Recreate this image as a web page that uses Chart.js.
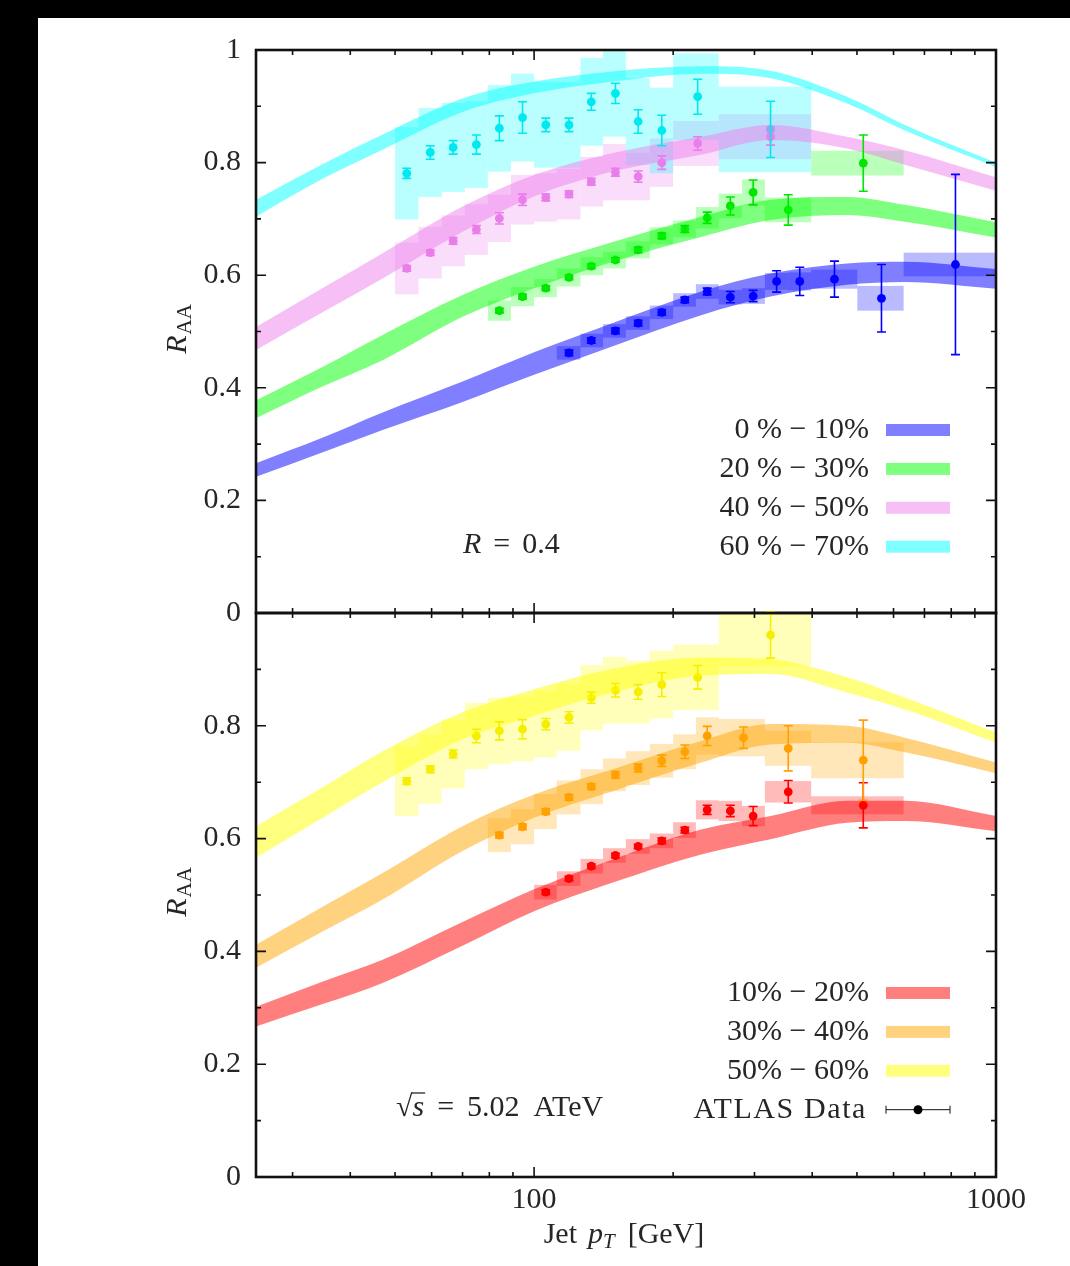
<!DOCTYPE html>
<html>
<head>
<meta charset="utf-8">
<script src="https://cdn.jsdelivr.net/npm/chart.js@4.4.0/dist/chart.umd.min.js"></script>
<style>
  html, body { margin: 0; padding: 0; background: #000; }
  #page { position: absolute; left: 38px; top: 18px; width: 1032px; height: 1248px; background: #fff; }
  canvas { position: absolute; left: 0; }
  #top { top: 0; }
  #bot { top: 600px; }
</style>
</head>
<body>
<div id="page"></div>
<canvas id="top" width="1070" height="640"></canvas>
<canvas id="bot" width="1070" height="666"></canvas>
<script>
// =====================
// data
// =====================
const THEORY_PT = [25, 35, 47, 70, 100, 148, 230, 325, 476, 635, 1000];

// theory bands, R = 0.4 (upper panel)
const band0_10_lo  = [0.242, 0.286, 0.325, 0.375, 0.423, 0.474, 0.529, 0.562, 0.583, 0.588, 0.576];
const band0_10_hi  = [0.266, 0.312, 0.356, 0.411, 0.463, 0.515, 0.571, 0.603, 0.621, 0.624, 0.611];
const band20_30_lo = [0.346, 0.403, 0.449, 0.526, 0.577, 0.624, 0.668, 0.698, 0.707, 0.695, 0.667];
const band20_30_hi = [0.378, 0.438, 0.494, 0.565, 0.615, 0.659, 0.704, 0.734, 0.739, 0.725, 0.694];
const band40_50_lo = [0.467, 0.535, 0.594, 0.677, 0.740, 0.784, 0.814, 0.840, 0.825, 0.796, 0.750];
const band40_50_hi = [0.508, 0.578, 0.639, 0.722, 0.778, 0.817, 0.846, 0.867, 0.846, 0.822, 0.774];
const band60_70_lo = [0.704, 0.772, 0.823, 0.890, 0.923, 0.944, 0.958, 0.950, 0.905, 0.857, 0.792];
const band60_70_hi = [0.734, 0.798, 0.850, 0.914, 0.944, 0.962, 0.971, 0.963, 0.917, 0.867, 0.800];

// theory bands (lower panel)
const band10_20_lo = [0.267, 0.307, 0.344, 0.410, 0.471, 0.522, 0.572, 0.599, 0.628, 0.631, 0.613];
const band10_20_hi = [0.302, 0.347, 0.385, 0.452, 0.510, 0.563, 0.616, 0.640, 0.667, 0.667, 0.640];
const band30_40_lo = [0.371, 0.436, 0.492, 0.578, 0.637, 0.684, 0.735, 0.767, 0.770, 0.753, 0.716];
const band30_40_hi = [0.412, 0.480, 0.539, 0.622, 0.678, 0.723, 0.773, 0.803, 0.800, 0.779, 0.735];
const band50_60_lo = [0.566, 0.638, 0.700, 0.776, 0.818, 0.859, 0.889, 0.892, 0.859, 0.829, 0.770];
const band50_60_hi = [0.622, 0.692, 0.755, 0.824, 0.865, 0.901, 0.921, 0.918, 0.886, 0.850, 0.788];

// ATLAS points: [pT, bin low, bin high, R_AA, stat err, syst err]
const atlas0_10 = [
  [119, 112, 126, 0.462, 0.005, 0.012], [133, 126, 141, 0.484, 0.005, 0.012],
  [150, 141, 158, 0.501, 0.005, 0.012], [168, 158, 178, 0.515, 0.005, 0.012],
  [189, 178, 200, 0.534, 0.005, 0.012], [212, 200, 224, 0.556, 0.005, 0.012],
  [237, 224, 251, 0.571, 0.006, 0.013], [266, 251, 282, 0.561, 0.010, 0.013],
  [298, 282, 316, 0.563, 0.010, 0.014], [335, 316, 355, 0.589, 0.019, 0.015],
  [376, 355, 398, 0.589, 0.025, 0.016], [447, 398, 501, 0.593, 0.032, 0.017],
  [565, 501, 631, 0.559, 0.060, 0.022], [817, 631, 1000, 0.619, 0.160, 0.021]
];
const atlas20_30 = [
  [84.1, 79.4, 89.1, 0.537, 0.004, 0.018], [94.4, 89.1, 100, 0.562, 0.004, 0.017],
  [106, 100, 112, 0.577, 0.004, 0.016], [119, 112, 126, 0.596, 0.004, 0.016],
  [133, 126, 141, 0.616, 0.004, 0.016], [150, 141, 158, 0.627, 0.004, 0.015],
  [168, 158, 178, 0.645, 0.005, 0.015], [189, 178, 200, 0.670, 0.005, 0.015],
  [212, 200, 224, 0.682, 0.006, 0.015], [237, 224, 251, 0.702, 0.010, 0.019],
  [266, 251, 282, 0.723, 0.016, 0.022], [298, 282, 316, 0.747, 0.022, 0.023],
  [355, 316, 398, 0.716, 0.027, 0.022], [516, 398, 631, 0.799, 0.050, 0.022]
];
const atlas40_50 = [
  [53, 50, 56.2, 0.612, 0.005, 0.046], [59.6, 56.2, 63.1, 0.640, 0.005, 0.046],
  [66.8, 63.1, 70.8, 0.661, 0.006, 0.045], [75, 70.8, 79.4, 0.681, 0.007, 0.045],
  [84.1, 79.4, 89.1, 0.701, 0.010, 0.042], [94.4, 89.1, 100, 0.734, 0.010, 0.044],
  [106, 100, 112, 0.738, 0.006, 0.043], [119, 112, 126, 0.744, 0.006, 0.045],
  [133, 126, 141, 0.766, 0.006, 0.044], [150, 141, 158, 0.783, 0.007, 0.050],
  [168, 158, 178, 0.775, 0.010, 0.042], [189, 178, 200, 0.800, 0.012, 0.043],
  [226, 200, 251, 0.834, 0.012, 0.040], [325, 251, 398, 0.846, 0.015, 0.040]
];
const atlas60_70 = [
  [53, 50, 56.2, 0.781, 0.009, 0.082], [59.6, 56.2, 63.1, 0.818, 0.012, 0.079],
  [66.8, 63.1, 70.8, 0.827, 0.012, 0.079], [75, 70.8, 79.4, 0.832, 0.017, 0.077],
  [84.1, 79.4, 89.1, 0.861, 0.022, 0.077], [94.4, 89.1, 100, 0.880, 0.028, 0.078],
  [106, 100, 112, 0.867, 0.012, 0.076], [119, 112, 126, 0.867, 0.012, 0.076],
  [133, 126, 141, 0.908, 0.015, 0.078], [150, 141, 158, 0.923, 0.018, 0.077],
  [168, 158, 178, 0.873, 0.021, 0.077], [189, 178, 200, 0.857, 0.027, 0.076],
  [226, 200, 251, 0.917, 0.031, 0.077], [325, 251, 398, 0.859, 0.050, 0.076]
];
const atlas10_20 = [
  [106, 100, 112, 0.505, 0.004, 0.013], [119, 112, 126, 0.529, 0.004, 0.013],
  [133, 126, 141, 0.551, 0.004, 0.013], [150, 141, 158, 0.570, 0.004, 0.013],
  [168, 158, 178, 0.586, 0.004, 0.013], [189, 178, 200, 0.596, 0.005, 0.013],
  [212, 200, 224, 0.615, 0.005, 0.014], [237, 224, 251, 0.651, 0.008, 0.017],
  [266, 251, 282, 0.649, 0.010, 0.018], [298, 282, 316, 0.640, 0.017, 0.018],
  [355, 316, 398, 0.683, 0.020, 0.019], [516, 398, 631, 0.659, 0.040, 0.016]
];
const atlas30_40 = [
  [84.1, 79.4, 89.1, 0.606, 0.005, 0.030], [94.4, 89.1, 100, 0.621, 0.005, 0.031],
  [106, 100, 112, 0.648, 0.005, 0.031], [119, 112, 126, 0.673, 0.005, 0.030],
  [133, 126, 141, 0.692, 0.005, 0.031], [150, 141, 158, 0.713, 0.006, 0.029],
  [168, 158, 178, 0.725, 0.007, 0.030], [189, 178, 200, 0.738, 0.010, 0.030],
  [212, 200, 224, 0.754, 0.012, 0.031], [237, 224, 251, 0.782, 0.017, 0.033],
  [284, 251, 316, 0.779, 0.019, 0.033], [355, 316, 398, 0.760, 0.040, 0.031],
  [516, 398, 631, 0.739, 0.071, 0.032]
];
const atlas50_60 = [
  [53, 50, 56.2, 0.702, 0.006, 0.062], [59.6, 56.2, 63.1, 0.723, 0.006, 0.061],
  [66.8, 63.1, 70.8, 0.750, 0.007, 0.061], [75, 70.8, 79.4, 0.782, 0.012, 0.059],
  [84.1, 79.4, 89.1, 0.791, 0.016, 0.059], [94.4, 89.1, 100, 0.794, 0.017, 0.057],
  [106, 100, 112, 0.803, 0.010, 0.059], [119, 112, 126, 0.815, 0.010, 0.059],
  [133, 126, 141, 0.850, 0.010, 0.058], [150, 141, 158, 0.863, 0.012, 0.059],
  [168, 158, 178, 0.860, 0.013, 0.056], [189, 178, 200, 0.873, 0.021, 0.060],
  [226, 200, 251, 0.886, 0.021, 0.058], [325, 251, 398, 0.961, 0.041, 0.055]
];

// axes
const X_TICKS = [30, 40, 50, 60, 70, 80, 90, 100, 200, 300, 400, 500, 600, 700, 800, 900, 1000];
const X_LABELS = [100, 1000];
const Y_TICKS = [0, 0.1, 0.2, 0.3, 0.4, 0.5, 0.6, 0.7, 0.8, 0.9, 1];
const Y_LABELS_TOP = [0, 0.2, 0.4, 0.6, 0.8, 1];
const Y_LABELS_BOT = [0, 0.2, 0.4, 0.6, 0.8];

// =====================
// styles
// =====================
const SERIF = "'Liberation Serif', 'DejaVu Serif', serif";
const INK = '#262626';
const rgba = (c, a) => `rgba(${c[0]},${c[1]},${c[2]},${a})`;

const TOP_SERIES = [
  { label: '0 % − 10%',  rgb: [0, 0, 255],     point: '#0000ff', lo: band0_10_lo,  hi: band0_10_hi,  pts: atlas0_10 },
  { label: '20 % − 30%', rgb: [0, 255, 0],     point: '#00e600', lo: band20_30_lo, hi: band20_30_hi, pts: atlas20_30 },
  { label: '40 % − 50%', rgb: [238, 130, 238], point: '#e97de9', lo: band40_50_lo, hi: band40_50_hi, pts: atlas40_50 },
  { label: '60 % − 70%', rgb: [0, 255, 255],   point: '#00e8f0', lo: band60_70_lo, hi: band60_70_hi, pts: atlas60_70 }
];
const BOT_SERIES = [
  { label: '10% − 20%', rgb: [255, 0, 0],   point: '#ff0000', lo: band10_20_lo, hi: band10_20_hi, pts: atlas10_20 },
  { label: '30% − 40%', rgb: [255, 165, 0], point: '#ffa000', lo: band30_40_lo, hi: band30_40_hi, pts: atlas30_40 },
  { label: '50% − 60%', rgb: [255, 255, 0], point: '#f5ee00', lo: band50_60_lo, hi: band50_60_hi, pts: atlas50_60 }
];

function datasetsFor(series) {
  const out = [];
  series.forEach(s => {
    out.push({
      data: THEORY_PT.map((x, i) => ({ x, y: s.hi[i] })),
      showLine: true, fill: '+1', cubicInterpolationMode: 'monotone',
      backgroundColor: rgba(s.rgb, 0.5), borderColor: 'rgba(0,0,0,0)', borderWidth: 0, pointRadius: 0
    });
    out.push({
      data: THEORY_PT.map((x, i) => ({ x, y: s.lo[i] })),
      showLine: true, fill: false, cubicInterpolationMode: 'monotone',
      borderColor: 'rgba(0,0,0,0)', borderWidth: 0, pointRadius: 0
    });
  });
  series.forEach(s => {
    out.push({
      data: s.pts.map(r => ({ x: r[0], y: r[3] })),
      showLine: false, pointRadius: 4.4, pointBackgroundColor: s.point, pointBorderWidth: 0
    });
  });
  return out;
}

// mixed font text runs
function runs(ctx, x, y, parts, align) {
  let w = 0;
  parts.forEach(p => { ctx.font = p.font; w += ctx.measureText(p.t).width + (p.gap || 0); });
  let cx = align === 'right' ? x - w : align === 'center' ? x - w / 2 : x;
  ctx.textAlign = 'left';
  parts.forEach(p => {
    ctx.font = p.font;
    ctx.fillText(p.t, cx, y + (p.dy || 0));
    cx += ctx.measureText(p.t).width + (p.gap || 0);
  });
  return cx;
}

function makeDecor(series, opts) {
  return {
    id: 'decor',
    beforeDatasetsDraw(chart) {
      const { ctx, chartArea: a, scales: { x, y } } = chart;
      ctx.save();
      ctx.beginPath(); ctx.rect(a.left, a.top, a.width, a.height); ctx.clip();
      series.forEach(s => {
        ctx.fillStyle = rgba(s.rgb, 0.27);
        s.pts.forEach(r => {
          const x0 = x.getPixelForValue(r[1]), x1 = x.getPixelForValue(r[2]);
          const y0 = y.getPixelForValue(r[3] + r[5]), y1 = y.getPixelForValue(r[3] - r[5]);
          ctx.fillRect(x0, y0, x1 - x0, y1 - y0);
        });
      });
      ctx.restore();
    },
    afterDatasetsDraw(chart) {
      const { ctx, chartArea: a, scales: { x, y } } = chart;
      ctx.save();
      // error bars
      ctx.lineWidth = 1.6;
      series.forEach(s => {
        ctx.strokeStyle = s.point;
        s.pts.forEach(r => {
          const px = x.getPixelForValue(r[0]);
          const p0 = y.getPixelForValue(r[3] - r[4]), p1 = y.getPixelForValue(r[3] + r[4]);
          ctx.beginPath();
          ctx.moveTo(px, p0); ctx.lineTo(px, p1);
          ctx.moveTo(px - 4.5, p0); ctx.lineTo(px + 4.5, p0);
          ctx.moveTo(px - 4.5, p1); ctx.lineTo(px + 4.5, p1);
          ctx.stroke();
        });
      });
      // frame + inward ticks
      ctx.strokeStyle = '#111';
      ctx.lineWidth = 1.6;
      ctx.beginPath();
      X_TICKS.forEach(v => {
        const px = x.getPixelForValue(v), len = X_LABELS.includes(v) ? 10 : 5;
        ctx.moveTo(px, a.bottom); ctx.lineTo(px, a.bottom - len);
        ctx.moveTo(px, a.top); ctx.lineTo(px, a.top + len);
      });
      Y_TICKS.forEach((v, i) => {
        const py = y.getPixelForValue(v), len = i % 2 === 0 ? 10 : 5;
        ctx.moveTo(a.left, py); ctx.lineTo(a.left + len, py);
        ctx.moveTo(a.right, py); ctx.lineTo(a.right - len, py);
      });
      ctx.stroke();
      ctx.lineWidth = 2.6;
      ctx.strokeRect(a.left, a.top, a.width, a.height);
      ctx.restore();
    },
    afterDraw(chart) {
      const { ctx, chartArea: a } = chart;
      ctx.save();
      ctx.fillStyle = INK;
      ctx.textBaseline = 'middle';
      const F = `30px ${SERIF}`;
      const FI = `italic 30px ${SERIF}`;
      // legend
      const rows = opts.atlas ? series.length + 1 : series.length;
      for (let i = 0; i < rows; i++) {
        const yc = a.top + 380 + i * 38.9;
        if (i < series.length) {
          runs(ctx, 869, yc, [{ t: series[i].label, font: F }], 'right');
          ctx.fillStyle = rgba(series[i].rgb, 0.5);
          ctx.fillRect(886, yc - 6, 64, 12);
          ctx.fillStyle = INK;
        } else {
          ctx.letterSpacing = '1.6px';
          runs(ctx, 867, yc, [{ t: 'ATLAS Data', font: F }], 'right');
          ctx.letterSpacing = '0px';
          ctx.strokeStyle = '#111'; ctx.lineWidth = 1;
          ctx.beginPath();
          ctx.moveTo(886, yc); ctx.lineTo(950, yc);
          ctx.moveTo(886, yc - 4); ctx.lineTo(886, yc + 4);
          ctx.moveTo(950, yc - 4); ctx.lineTo(950, yc + 4);
          ctx.stroke();
          ctx.beginPath(); ctx.arc(918, yc, 4.5, 0, Math.PI * 2); ctx.fillStyle = '#000'; ctx.fill();
          ctx.fillStyle = INK;
        }
      }
      // annotation
      ctx.textBaseline = 'alphabetic';
      const base = a.top + 503;
      if (opts.atlas) {
        const x0 = 396;
        ctx.font = F;
        ctx.fillText('√', x0, base);
        const w1 = ctx.measureText('√').width;
        ctx.font = FI;
        const ws = ctx.measureText('s').width;
        ctx.fillText('s', x0 + w1, base);
        ctx.strokeStyle = INK; ctx.lineWidth = 1.3;
        ctx.beginPath(); ctx.moveTo(x0 + w1 - 1, base - 23); ctx.lineTo(x0 + w1 + ws + 1, base - 23); ctx.stroke();
        runs(ctx, x0 + w1 + ws + 13, base, [
          { t: '=', font: F, gap: 13 },
          { t: '5.02', font: F, gap: 14 },
          { t: 'ATeV', font: F }
        ], 'left');
      } else {
        runs(ctx, 463, base, [
          { t: 'R', font: FI, gap: 12 },
          { t: '=', font: F, gap: 12 },
          { t: '0.4', font: F }
        ], 'left');
      }
      // y title
      ctx.save();
      ctx.translate(186, a.top + 279);
      ctx.rotate(-Math.PI / 2);
      runs(ctx, 0, 0, [
        { t: 'R', font: FI, gap: 1 },
        { t: 'AA', font: `21px ${SERIF}`, dy: 5 }
      ], 'center');
      ctx.restore();
      // x title
      if (opts.atlas) {
        runs(ctx, 624, 643, [
          { t: 'Jet', font: F, gap: 11 },
          { t: 'p', font: FI },
          { t: 'T', font: `italic 21px ${SERIF}`, dy: 5, gap: 13 },
          { t: '[GeV]', font: F }
        ], 'center');
      }
      ctx.restore();
    }
  };
}

function makeChart(id, series, opts) {
  return new Chart(document.getElementById(id), {
    type: 'scatter',
    data: { datasets: datasetsFor(series) },
    options: {
      responsive: false,
      animation: false,
      events: [],
      layout: { padding: opts.padding },
      plugins: { legend: { display: false }, tooltip: { enabled: false } },
      scales: {
        x: {
          type: 'logarithmic', min: 25, max: 1000,
          afterBuildTicks: sc => { sc.ticks = X_TICKS.map(v => ({ value: v })); },
          afterFit: sc => { sc.height = opts.xHeight; sc.paddingLeft = 0; sc.paddingRight = 0; },
          grid: { display: false, drawTicks: false },
          border: { display: false },
          ticks: {
            display: opts.atlas, autoSkip: false, maxRotation: 0, padding: 5,
            font: { family: SERIF, size: 30 }, color: INK,
            callback: v => X_LABELS.includes(v) ? String(v) : ''
          }
        },
        y: {
          min: 0, max: 1,
          afterBuildTicks: sc => { sc.ticks = Y_TICKS.map(v => ({ value: v })); },
          afterFit: sc => { sc.width = 256; sc.paddingTop = 0; sc.paddingBottom = 0; },
          grid: { display: false, drawTicks: false },
          border: { display: false },
          ticks: {
            autoSkip: false, padding: 15,
            font: { family: SERIF, size: 30 }, color: INK,
            callback: v => opts.yLabels.includes(v) ? String(v) : ''
          }
        }
      }
    },
    plugins: [makeDecor(series, opts)]
  });
}

makeChart('top', TOP_SERIES, {
  padding: { top: 50, right: 74, bottom: 27, left: 0 },
  xHeight: 0, yLabels: Y_LABELS_TOP, atlas: false
});
makeChart('bot', BOT_SERIES, {
  padding: { top: 13, right: 74, bottom: 0, left: 0 },
  xHeight: 89, yLabels: Y_LABELS_BOT, atlas: true
});
</script>
</body>
</html>
